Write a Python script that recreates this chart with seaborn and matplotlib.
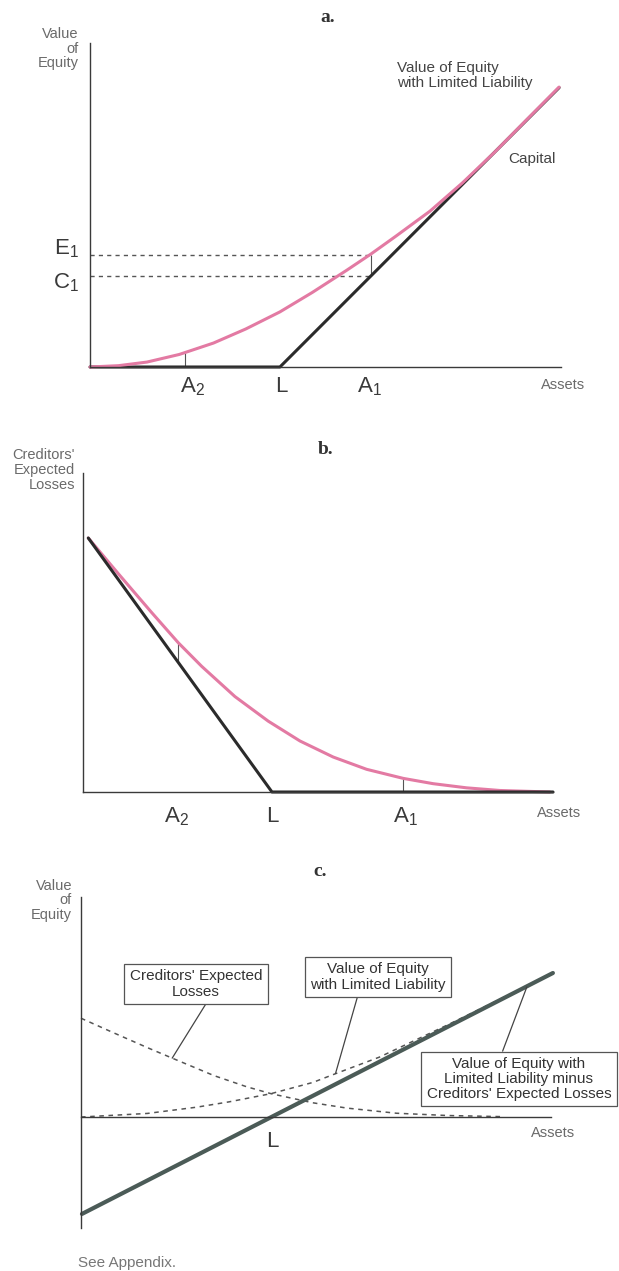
import matplotlib
matplotlib.use('Agg')
import matplotlib.pyplot as plt
import seaborn as sns
import pandas as pd

# ---- panel a: value of equity against assets (liabilities L = 100) ----
a_assets = [0, 15, 30, 47, 65, 82, 100, 117, 135, 148, 161, 179, 196, 213, 230, 247]
a_equity = [0, 0.7, 2.6, 6.6, 12.6, 20, 29, 39.2, 50.8, 59.5, 68.8, 82, 96.8, 113, 130.2, 147.3]
a_capital_x = [0, 100, 247]
a_capital_y = [0, 0, 147]
a_A2, a_L, a_A1 = 50, 100, 148
a_A2_equity = 7.6
a_E1, a_C1 = 59, 48

# ---- panel b: creditors' expected losses against assets ----
b_assets = [2.8, 18.7, 36.3, 50.4, 62.8, 80.4, 98, 114.8, 132.4, 150.1, 169.5, 185.3, 203, 220.6, 247]
b_losses = [134.4, 115.5, 95, 79, 66.5, 50.5, 37.5, 27, 18.5, 12, 7.2, 4.4, 2.2, 0.8, 0]
b_floor_x = [2.8, 100, 248.7]
b_floor_y = [134.4, 0, 0]
b_A2, b_L, b_A1 = 50.4, 100, 169.5
b_floor_at_A2 = 68.6

# ---- panel c: equity, creditors' losses and their difference ----
c_cl_assets = [0, 17, 35, 48, 70, 87, 100, 122, 140, 166, 193, 222]
c_losses = [52, 44.4, 36.5, 31, 21.8, 16, 12.3, 7.5, 4.7, 2.0, 0.8, 0.2]
c_eq_assets = [0, 35, 61, 78, 100, 122, 135, 157, 175, 193, 212, 230]
c_equity = [0, 1.9, 5.2, 8.0, 12.3, 18.2, 23.2, 31.5, 40, 48.5, 57.8, 66.7]
c_net_x = [0.5, 248.4]
c_net_y = [-51, 75.8]
c_L = 100

sns.set_theme(style='white')
plt.rcParams['font.family'] = ['Liberation Sans', 'DejaVu Sans']
plt.rcParams['mathtext.fontset'] = 'custom'
plt.rcParams['mathtext.rm'] = 'Liberation Sans'
plt.rcParams['mathtext.it'] = 'Liberation Sans'

PINK = '#e37aa3'
DARK = '#2b2b2b'
GREY = '#555555'
W, H = 619, 1271

fig = plt.figure(figsize=(W / 100, H / 100), dpi=100)
fig.patch.set_facecolor('white')


def make_axes(x0, x1, y0, y1):
    # pixel box -> figure fraction
    return fig.add_axes([x0 / W, 1 - y1 / H, (x1 - x0) / W, (y1 - y0) / H])


def style(ax, xlim, ylim):
    ax.set_xlim(*xlim)
    ax.set_ylim(*ylim)
    ax.set_facecolor('white')
    for s in ['top', 'right']:
        ax.spines[s].set_visible(False)
    for s in ['left', 'bottom']:
        ax.spines[s].set_color('#3a3a3a')
        ax.spines[s].set_linewidth(1.0)
    ax.set_xticks([])
    ax.set_yticks([])
    ax.set_xlabel('')
    ax.set_ylabel('')


def curve(ax, x, y, color, lw, **kw):
    df = pd.DataFrame({'x': x, 'y': y})
    sns.lineplot(data=df, x='x', y='y', ax=ax, color=color, linewidth=lw,
                 sort=False, estimator=None, clip_on=False, **kw)


def title(x, y, s):
    fig.text(x / W, 1 - y / H, s, ha='center', va='center', fontsize=14,
             fontweight='bold', family='Liberation Serif', color='#333333')


label_kw = dict(color='#6a6a6a', fontsize=10.5, linespacing=1.05)
note_kw = dict(color='#444444', fontsize=11, linespacing=1.05)
big_kw = dict(color='#3a3a3a', fontsize=16)

# ================= panel a =================
ax = make_axes(90, 561, 43, 367)
style(ax, (0, 248), (0, 170.5))
ax.hlines(a_E1, 0, a_A1, colors=GREY, linestyles=(0, (3, 3)), lw=1)
ax.hlines(a_C1, 0, a_A1, colors=GREY, linestyles=(0, (3, 3)), lw=1)
ax.vlines(a_A1, a_C1, a_E1, colors=GREY, lw=0.8)
ax.vlines(a_A2, 0, a_A2_equity, colors=GREY, lw=0.8)
curve(ax, a_capital_x, a_capital_y, DARK, 2.2)
curve(ax, a_assets, a_equity, PINK, 2.2)
ax.text(-6, 167.5, 'Value\nof\nEquity', ha='right', va='center', **label_kw)
ax.text(161.5, 153.5, 'Value of Equity\nwith Limited Liability', ha='left', va='center', **note_kw)
ax.text(220, 109.5, 'Capital', ha='left', va='center', **note_kw)
ax.text(-6, a_E1 + 3.5, r'E$_1$', ha='right', va='center', **big_kw)
ax.text(-6, a_C1 - 3.5, r'C$_1$', ha='right', va='center', **big_kw)
ax.text(a_A2 + 4, -10.5, r'A$_2$', ha='center', va='center', **big_kw)
ax.text(a_L + 0.5, -10, 'L', ha='center', va='center', **big_kw)
ax.text(a_A1 - 1, -10.5, r'A$_1$', ha='center', va='center', **big_kw)
ax.text(249, -9.5, 'Assets', ha='center', va='center', **label_kw)
title(328, 18, 'a.')

# ================= panel b =================
ax = make_axes(83, 553, 473, 792)
style(ax, (0, 248.7), (0, 168.8))
ax.vlines(b_A2, b_floor_at_A2, b_losses[b_assets.index(b_A2)], colors=GREY, lw=0.8)
ax.vlines(b_A1, 0, b_losses[b_assets.index(b_A1)], colors=GREY, lw=0.8)
curve(ax, b_assets, b_losses, PINK, 2.2)
curve(ax, b_floor_x, b_floor_y, DARK, 2.2)
ax.text(-4.2, 170.4, "Creditors'\nExpected\nLosses", ha='right', va='center', **label_kw)
ax.text(b_A2 - 1, -13.2, r'A$_2$', ha='center', va='center', **big_kw)
ax.text(b_L, -13.2, 'L', ha='center', va='center', **big_kw)
ax.text(b_A1 + 1, -13.2, r'A$_1$', ha='center', va='center', **big_kw)
ax.text(252, -11, 'Assets', ha='center', va='center', **label_kw)
title(326, 450, 'b.')

# ================= panel c =================
ax = make_axes(81, 551, 897, 1228)
style(ax, (0, 247.4), (-58.4, 115.8))
ax.spines['bottom'].set_position(('data', 0))
curve(ax, c_cl_assets, c_losses, GREY, 1.1, dashes=(3, 3))
curve(ax, c_eq_assets, c_equity, GREY, 1.1, dashes=(3, 3))
curve(ax, c_net_x, c_net_y, '#4b5b57', 3.0)
ax.text(-4.7, 114, 'Value\nof\nEquity', ha='right', va='center', **label_kw)
ax.text(c_L + 0.5, -13, 'L', ha='center', va='center', **big_kw)
ax.text(248.4, -8.4, 'Assets', ha='center', va='center', **label_kw)

box = dict(boxstyle='square,pad=0.35', facecolor='white', edgecolor='#555555', lw=0.9)
box_kw = dict(ha='center', va='center', fontsize=11, color='#333333', linespacing=1.1, bbox=box)
leader = dict(arrowstyle='-', color='#444444', lw=0.9, shrinkA=0, shrinkB=0)
ax.annotate("Creditors' Expected\nLosses", xy=(48, 31), xytext=(60.5, 70),
            arrowprops=dict(relpos=(0.6, 0), **leader), **box_kw)
ax.annotate('Value of Equity\nwith Limited Liability', xy=(134, 23), xytext=(156.3, 73.7),
            arrowprops=dict(relpos=(0.36, 0), **leader), **box_kw)
ax.annotate("Value of Equity with\nLimited Liability minus\nCreditors' Expected Losses",
            xy=(234.7, 68.5), xytext=(230.5, 20),
            arrowprops=dict(relpos=(0.4, 1), **leader), **box_kw)
title(320, 872, 'c.')
fig.text(78 / W, 1 - 1263 / H, 'See Appendix.', ha='left', va='center',
         fontsize=11, color='#777777')

fig.savefig('out.png', dpi=100, facecolor='white')
plt.close(fig)
